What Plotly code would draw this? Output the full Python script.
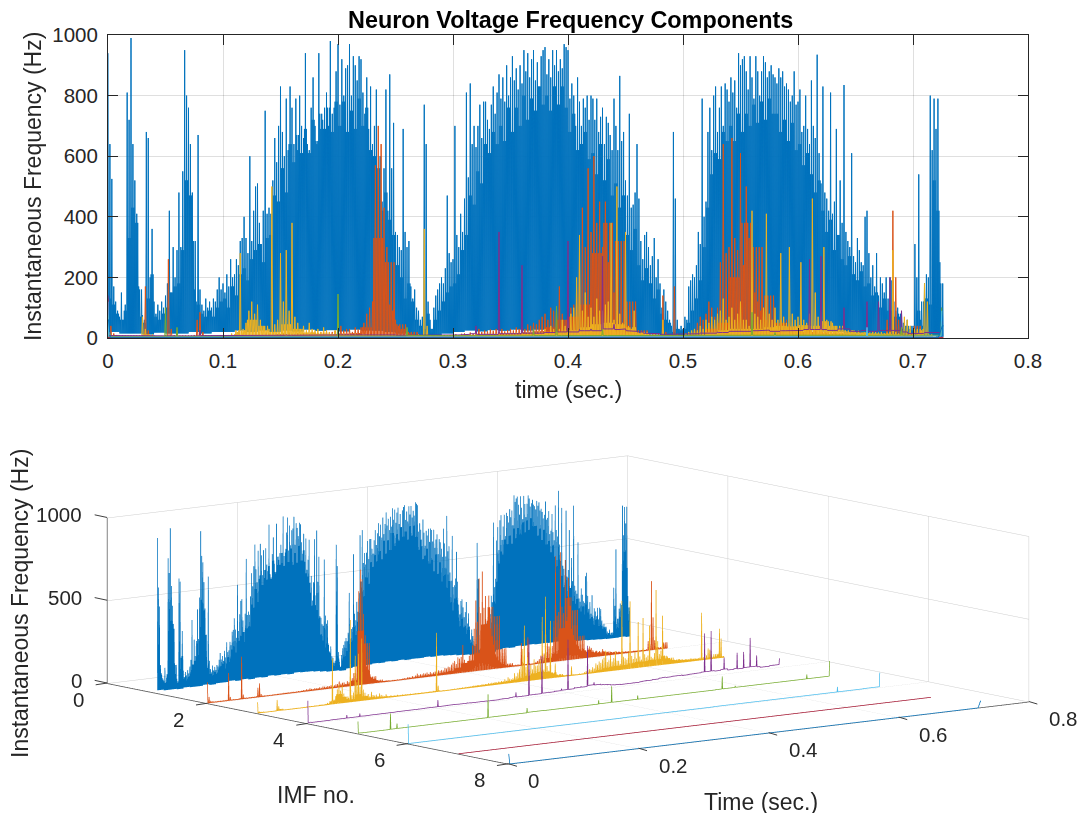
import plotly.graph_objects as go

# ---- values: one row per 0.01 s -----------------------------------------------
BLUE_PEAKS = [
 940,640,525,170,120,90, 70,150,60,110,810,720, 990,640,520,410,170,70, 75,60,680,660,200,360,
 120,80,110,90,120,100, 140,180,420,150,300,200, 290,480,300,550,950,800, 760,640,480,160,120,670,
 160,110,90,130,100,120, 100,130,120,160,200,160, 180,150,210,170,260,200, 210,260,240,320,330,400,
 330,280,600,320,420,500, 510,380,310,420,750,410, 430,410,520,660,580,700, 830,680,600,790,620,830,
 760,640,790,620,800,700, 660,940,640,620,760,860, 700,640,940,690,720,760, 810,700,980,740,760,880,
 970,770,920,800,890,900, 970,800,930,900,850,930, 920,810,740,860,690,830, 640,700,820,500,600,450,
 560,820,420,870,560,710, 350,340,300,290,690,350, 300,320,170,130,160,100, 90,60,70,770,640,120,
 60,30,100,140,160,180, 200,180,230,470,280,250, 260,700,340,300,410,350, 460,810,530,840,640,700,
 630,700,770,660,780,780, 720,690,770,830,740,810, 870,790,860,780,900,800, 860,930,850,890,820,900,
 840,950,880,940,860,920, 950,850,910,830,930,950, 960,870,920,860,950,900, 950,880,920,890,970,960,
 950,790,840,800,700,860, 780,700,790,760,800,720, 800,790,720,790,680,730, 760,640,730,710,670,620,
 790,700,620,865,650,680, 520,470,740,430,440,480, 640,460,320,260,340,350, 300,240,270,330,200,260,
 180,100,160,120,90,60, 40,680,460,60,30,40, 30,70,60,170,190,210, 200,240,350,310,790,400,
 450,680,760,620,800,830, 680,760,830,700,840,820, 780,860,810,850,760,940, 900,920,930,880,820,930,
 860,790,930,880,800,880, 930,910,860,880,900,870, 860,840,890,860,880,830, 840,820,780,800,880,770,
 780,820,680,700,800,690, 640,850,700,660,935,610, 510,830,480,460,420,810, 410,450,690,340,520,380,
 835,350,320,300,610,270, 250,330,290,250,240,400, 420,280,200,240,170,280, 140,200,180,150,200,130,
 200,190,120,90,100,70, 80,50,40,60,30,40, 40,310,200,540,60,40, 180,210,200,800,620,790,
 690,790,250,100]
BLUE_MID = [130,110,80, 60,90,330, 430,380,160, 50,130,210, 70,60,80, 100,150,170, 180,290,520, 470,320,110,
 80,70,90, 70,100,120, 130,100,170, 140,210,230, 190,260,290, 310,250,330, 340,470,450, 560,480,640,
 580,670,610, 690,610,720, 650,740,690, 760,680,780, 700,780,680, 750,690,790, 700,760,620, 600,560,420,
 480,390,340, 240,200,130, 180,120,60, 40,30,80, 30,60,90, 120,150,170, 180,210,290, 340,470,440,
 550,510,640, 610,680,640, 700,650,760, 680,760,700, 800,720,790, 750,830,770, 800,750,830, 770,830,760,
 680,740,620, 640,680,590, 610,540,640, 520,590,470, 510,430,470, 340,290,360, 240,190,230, 180,130,160,
 80,60,50, 20,30,25, 30,50,90, 130,190,300, 430,540,610, 590,680,650, 700,650,740, 680,740,700,
 770,710,780, 720,790,740, 740,680,720, 650,710,620, 640,570,610, 540,480,520, 420,350,390, 290,340,260,
 240,270,210, 190,220,170, 180,140,150, 100,130,90, 90,70,80, 30,40,25, 30,90,120, 130,110,520, 420,180,90]
BLUE_FLOOR = [20,15,15,12,18,15,15,20,15,20,20,25,20,25,20,25,22,28,24,26,
 22,28,25,24,20,15,10,10,6,15,20,25,22,26,24,28,25,28,24,26,
 25,28,24,26,22,20,15,12,8,6,6,10,20,25,22,28,24,28,25,26,
 24,26,22,20,15,15,12,10,8,6,6,8,4]
ORANGE_PEAKS = [
 130,40,15,10, 8,8,8,8, 8,8,8,8, 8,170,25,8, 8,6,6,6, 10,260,30,10, 8,8,8,8, 8,8,10,60, 85,20,10,8,
 8,7,8,7, 8,8,7,8, 9,8,8,10, 8,9,10,8, 10,9,8,10, 10,8,10,12, 12,15,12,18, 14,12,16,14, 15,18,14,20,
 18,16,20,18, 22,18,20,24, 25,40,25,30, 30,20,35,28, 35,50,80,100, 120,570,700,640, 430,300,110,90,
 60,40,30,30, 20,15,12,10, 10,9,10,8, 8,8,9,8, 8,10,8,9, 10,12,10,14, 15,12,18,14, 20,30,20,25,
 22,28,24,30, 20,30,22,26, 30,25,35,30, 35,30,45,40, 50,45,60,70, 80,60,100,90, 100,170,80,60,
 70,100,110,160, 260,430,300,560, 350,600,380,450, 300,450,250,200, 150,90,70,50, 40,30,25,20,
 15,12,15,10, 10,8,8,6, 6,140,20,8, 10,170,12,8, 8,10,15,20, 30,50,70,60, 80,120,100,70,
 100,250,640,280, 300,660,330,290, 610,240,500,330, 190,150,120,90, 80,60,50,60, 50,40,60,70,
 60,45,30,40, 25,35,20,45, 30,20,25,15, 20,15,18,12, 14,18,12,15, 12,14,10,12, 14,10,12,10,
 10,12,8,10, 10,8,12,60, 40,420,200,60, 20,10,8,6, 5,5,3]
ORANGE_MID = [8,5,5,5,5,6,5,5,5,5, 6,6,6,6,7,7,8,8,9,10, 14,16,35,330,250,45,20,10,6,6,
 7,8,10,12,14,16,18,22,35,60, 70,110,280,380,320,120,25,12,8,6, 8,10,30,50,200,380,300,140,50,35,
 30,25,20,15,12,10,10,8,8,15,40,8,4]
YELLOW_PEAKS = [
 70,12,8,6, 6,5,5,5, 6,6,5,6, 70,30,12,8, 6,5,5,6, 6,5,6,6, 6,6,5,6, 6,6,7,8, 8,7,6,8, 8,6,8,10,
 8,8,10,15, 12,20,280,30, 50,90,120,80, 110,60,40,25, 30,500,45,60, 280,120,290,90, 380,70,50,30,
 40,25,50,30, 25,30,20,35, 25,20,15,25, 14,12,15,10, 12,10,14,9, 10,12,9,11, 10,9,11,8, 9,10,8,9,
 8,10,8,9, 9,8,10,8, 12,10,360,40, 10,6,8,6, 6,7,6,8, 8,9,8,10, 10,9,11,10, 12,10,12,11,
 12,14,12,15, 14,12,16,14, 15,14,18,16, 18,16,20,18, 20,18,22,20, 30,20,40,30, 25,30,60,40,
 60,80,100,200, 340,90,150,70, 100,70,130,90, 90,110,120,380, 60,500,80,50, 350,40,30,90,
 20,15,20,12, 12,10,12,10, 8,60,10,8, 8,8,10,8, 10,15,20,25, 30,25,40,30, 60,50,70,60,
 80,90,130,60, 70,100,60,80, 120,60,60,40, 420,80,70,60, 100,410,80,60, 100,60,280,70,
 50,300,80,60, 70,250,60,50, 80,460,150,70, 90,300,60,40, 50,40,30,25, 25,22,20,25,
 20,24,18,20, 20,18,22,20, 18,20,16,18, 20,290,20,15, 30,70,60,40, 15,10,15,25, 180,120,10]
YELLOW_MID = [8,5,5,12,5,5,5,6,6,6, 7,25,60,40,20,45,30,18,14,12, 10,9,8,8,8,7,7,8,6,6,
 6,7,8,9,10,11,12,14,16,20, 25,35,45,50,45,35,20,10,8,6, 7,10,18,25,30,30,30,35,40,38,
 42,40,55,40,25,18,15,14,12,10,30,12,50]
PURPLE_PEAKS = [
 140,8, 6,6, 6,6, 6,7, 7,7, 7,7, 25,7, 7,7, 25,8, 7,8,
 8,8, 8,8, 8,9, 8,9, 9,9, 9,10, 9,9, 10,9, 10,10, 10,10,
 50,10, 10,12, 11,12, 11,10, 10,12, 10,9, 9,10, 9,10, 8,10, 8,10,
 12,10, 12,14, 40,12, 14,12, 350,14, 16,14, 240,16, 18,16, 20,18, 30,20,
 320,20, 28,24, 30,24, 270,30, 45,28, 30,24, 22,20, 16,14, 14,12, 12,12,
 14,12, 14,16, 18,16, 20,18, 22,24, 24,22, 25,24, 24,26, 22,25, 24,26,
 25,28, 260,28, 270,28, 25,30, 100,30, 22,25, 120,22, 120,25, 200,25, 90,20,
 15,15, 18,20, 18,55]
GREEN_PEAKS = [
 75,5, 4,4, 4,4, 4,4, 4,4, 100,5, 35,5, 5,5, 5,5, 5,5,
 5,5, 5,5, 5,5, 5,5, 5,5, 5,5, 5,5, 5,5, 5,5, 5,5,
 145,6, 6,6, 6,6, 6,6, 6,6, 6,6, 35,8, 8,8, 8,8, 7,7,
 7,7, 7,7, 7,7, 7,7, 7,7, 7,7, 7,7, 30,8, 8,8, 105,8,
 8,8, 8,8, 8,8, 30,8, 8,8, 8,8, 8,8, 8,8, 8,8, 8,8,
 8,8, 8,8, 8,8, 8,8, 8,8, 9,9, 85,9, 9,9, 18,9, 9,9,
 9,9, 9,9, 9,9, 9,9, 9,9, 9,9, 9,9, 9,9, 9,9, 35,9,
 9,9, 9,9, 9,100]
CYAN_PEAKS = [
 120,3, 3,3, 3,3, 3,3, 3,3, 3,3, 3,3, 3,3, 3,3, 3,3,
 3,3, 3,3, 3,3, 3,3, 3,3, 3,3, 3,3, 3,3, 3,3, 3,3,
 3,3, 3,3, 3,3, 3,3, 3,3, 3,3, 3,3, 3,3, 3,3, 3,3,
 3,3, 3,3, 3,3, 4,4, 4,4, 4,4, 4,4, 4,4, 4,4, 4,4,
 4,4, 4,4, 4,4, 4,4, 4,4, 4,4, 4,4, 5,5, 5,5, 5,5,
 5,5, 5,5, 5,5, 5,5, 5,5, 5,5, 5,5, 5,5, 5,5, 5,5,
 5,5, 5,5, 5,5, 5,5, 5,5, 5,5, 35,5, 5,5, 5,5, 5,5,
 6,6, 6,6, 6,90]
MAROON_T = [0.0, 0.3, 0.6, 0.7265]
MAROON_V = [2, 2, 2, 2]
BLUE8_T = [0, 0.0005, 0.002, 0.4, 0.722, 0.7255, 0.7265]
BLUE8_V = [60, 60, 1, 1, 1, 40, 40]

X_TICKS = [0,0.1,0.2,0.3,0.4,0.5,0.6,0.7,0.8]
X_LABELS = ['0','0.1','0.2','0.3','0.4','0.5','0.6','0.7','0.8']
Y_TICKS = [0,200,400,600,800,1000]
IMF_TICKS = [0,2,4,6,8]
TIME_TICKS = [0,0.2,0.4,0.6,0.8]
Z_TICKS = [0,500,1000]
COLORS = ['#0072BD','#D95319','#EDB120','#7E2F8E','#77AC30','#4DBEEE','#A2142F','#0072BD']
FONT = 'Liberation Sans'
INK = '#262626'
GRID = 'rgba(38,38,38,0.15)'
DT = 0.01

def spiky(peaks, per_row, floors, mids, per_mid):
    ts, vs = [], []
    step = DT / per_row
    for i, p in enumerate(peaks):
        row = min(i // per_row, len(floors) - 1)
        m = mids[min(i // per_mid, len(mids) - 1)]
        ts.append(i * step); vs.append(p)
        ts.append((i + 0.25) * step); vs.append(floors[row])
        ts.append((i + 0.5) * step); vs.append(m)
        ts.append((i + 0.75) * step); vs.append(floors[row])
    return ts, vs

def narrow(values, per_row):
    step = DT / per_row
    ts, vs = [], []
    n = len(values)
    for i, v in enumerate(values):
        if i:
            ts.append((i - 0.12) * step); vs.append(min(values[i - 1], v))
        ts.append(i * step); vs.append(v)
        if i < n - 1:
            ts.append((i + 0.12) * step); vs.append(min(values[i + 1], v))
    return ts, vs

series = [
    spiky(BLUE_PEAKS, 6, BLUE_FLOOR, BLUE_MID, 2),
    spiky(ORANGE_PEAKS, 4, [3], ORANGE_MID, 4),
    spiky(YELLOW_PEAKS, 4, [3], YELLOW_MID, 4),
    narrow(PURPLE_PEAKS, 2),
    narrow(GREEN_PEAKS, 2),
    narrow(CYAN_PEAKS, 2),
    (MAROON_T, MAROON_V), (BLUE8_T, BLUE8_V),
]

W, H = 1081, 813
fig = go.Figure()
for i, (t, v) in enumerate(series):
    fig.add_trace(go.Scatter(x=t, y=v, mode='lines', showlegend=False, hoverinfo='skip',
                             line=dict(color=COLORS[i], width=1.0)))
for i, (t, v) in enumerate(series):
    fig.add_trace(go.Scatter3d(x=[i + 1] * len(t), y=t, z=v, mode='lines', showlegend=False,
                               hoverinfo='skip', scene='scene',
                               line=dict(color=COLORS[i], width=1.5)))
# the three visible 3-D axis lines
for ax, ay, az in (([0, 8], [0, 0], [0, 0]), ([8, 8], [0, 0.8], [0, 0]), ([0, 0], [0, 0], [0, 1000])):
    fig.add_trace(go.Scatter3d(x=ax, y=ay, z=az, mode='lines', showlegend=False, hoverinfo='skip',
                               scene='scene', line=dict(color='#404040', width=1.5)))

axis3 = dict(showgrid=True, gridcolor='rgb(205,205,205)', gridwidth=1, zeroline=False,
             showbackground=False, showspikes=False, title=dict(text=''), showticklabels=False,
             showline=False, ticks='')
eye = (0.782, -0.603, 0.155)
R = 3
K = 3.37
cx, cy = 568, 609.5
hw, hh = 500, 195

def label3(x, y, z, text, dx, dy, anchor='center'):
    return dict(x=x, y=y, z=z, text=text, showarrow=False, xshift=dx, yshift=-dy, xanchor=anchor, yanchor='middle',
                font=dict(family=FONT, size=20.5, color=INK))

def tick3(x, y, z, ax, ay):
    return dict(x=x, y=y, z=z, text='', showarrow=True, arrowhead=0, arrowwidth=1, arrowcolor='#404040', ax=ax, ay=ay,
                standoff=0, startstandoff=0)

scene_notes = (
    [label3(v, 0, 0, str(v), -29, 16) for v in IMF_TICKS] +
    [label3(8, v, 0, str(v), 25 if v == 0 else 35, 17) for v in TIME_TICKS] +
    [label3(0, 0, v, str(v), -23, -3, 'right') for v in Z_TICKS] +
    [tick3(v, 0, 0, -13, 2) for v in IMF_TICKS] +
    [tick3(8, v, 0, 10, 3) for v in TIME_TICKS] +
    [tick3(0, 0, v, -14, -3) for v in Z_TICKS]
)

def note(text, px, py, size, angle=0, color=INK):
    return dict(text=text, x=px / W, y=1 - py / H, xref='paper', yref='paper', showarrow=False,
                xanchor='center', yanchor='middle', textangle=angle, font=dict(size=size, color=color))

fig.update_layout(
    margin=dict(l=0, r=0, t=0, b=0), paper_bgcolor='white', plot_bgcolor='white',
    font=dict(family=FONT, color=INK), autosize=True,
    xaxis=dict(domain=[108 / W, 1028 / W], range=[0, 0.8], tickvals=X_TICKS, ticktext=X_LABELS, automargin=False,
               ticks='inside', ticklen=10, tickcolor=INK, showline=True, mirror='ticks', linecolor=INK, linewidth=1,
               showgrid=True, gridcolor=GRID, zeroline=False, tickfont=dict(size=20.5), anchor='y', ticklabelstandoff=4),
    yaxis=dict(domain=[1 - 338 / H, 1 - 35 / H], range=[0, 1000], tickvals=Y_TICKS, automargin=False,
               ticks='inside', ticklen=10, tickcolor=INK, showline=True, mirror='ticks', linecolor=INK, linewidth=1,
               showgrid=True, gridcolor=GRID, zeroline=False, tickfont=dict(size=20.5), anchor='x', ticklabelstandoff=5),
    scene=dict(
        domain=dict(x=[(cx - hw) / W, (cx + hw) / W], y=[1 - (cy + hh) / H, 1 - (cy - hh) / H]),
        aspectmode='manual', aspectratio=dict(x=K, y=K, z=0.255 * K),
        camera=dict(projection=dict(type='orthographic'), up=dict(x=0, y=0, z=1), center=dict(x=0, y=0, z=0),
                    eye=dict(x=eye[0] * R, y=eye[1] * R, z=eye[2] * R)),
        xaxis=dict(axis3, range=[0, 8], tickvals=IMF_TICKS),
        yaxis=dict(axis3, range=[0, 0.8], tickvals=TIME_TICKS),
        zaxis=dict(axis3, range=[0, 1000], tickvals=Z_TICKS),
        annotations=scene_notes,
    ),
    annotations=[
        note('<b>Neuron Voltage Frequency Components</b>', 570, 20, 23.4, color='black'),
        note('time (sec.)', 568, 390, 23),
        note('Instantaneous Frequency (Hz)', 33, 187, 23, -90),
        note('IMF no.', 316, 795, 23),
        note('Time (sec.)', 761, 802, 23),
        note('Instantaneous Frequency (Hz)', 20, 604, 23, -90),
    ],
)
fig.write_html('out.html', config={'displayModeBar': False}, default_width='1081px', default_height='813px',
               post_script="document.body.style.margin='0';document.documentElement.style.overflow='hidden';")
